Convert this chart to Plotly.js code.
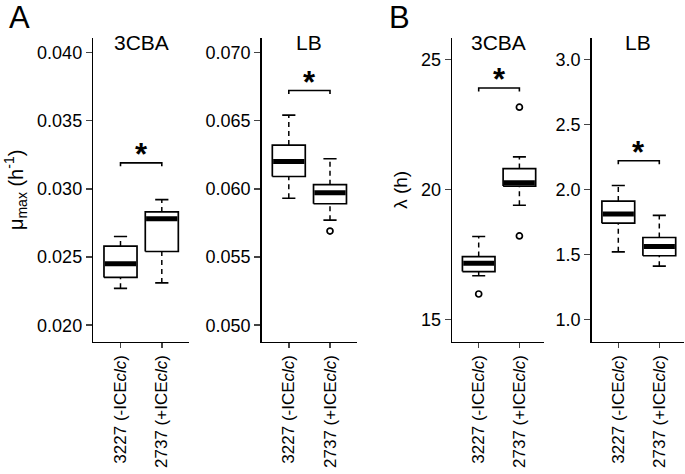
<!DOCTYPE html>
<html><head><meta charset="utf-8">
<script src="https://cdn.plot.ly/plotly-3.0.1.min.js"></script>
<style>html,body{margin:0;padding:0;background:#fff}#chart{width:685px;height:474px}</style>
</head><body><div id="chart"></div>
<script>
// categories
const strains = ["3227 (-ICE<i>clc</i>)", "2737 (+ICE<i>clc</i>)"];
const panelTitles = ["3CBA", "LB", "3CBA", "LB"];

// A: mu_max, 3CBA  (per strain: whisker low, Q1, median, Q3, whisker high)
const mu3CBA_lower  = [0.0227, 0.0231];
const mu3CBA_q1     = [0.0235, 0.0254];
const mu3CBA_median = [0.0245, 0.0278];
const mu3CBA_q3     = [0.0258, 0.0283];
const mu3CBA_upper  = [0.0265, 0.0292];
const mu3CBA_out    = [[], []];

// A: mu_max, LB
const muLB_lower  = [0.0593, 0.0577];
const muLB_q1     = [0.0609, 0.0589];
const muLB_median = [0.0620, 0.0597];
const muLB_q3     = [0.0632, 0.0603];
const muLB_upper  = [0.0654, 0.0622];
const muLB_out    = [[], [0.0569]];

// B: lag, 3CBA
const lag3CBA_lower  = [16.68, 19.39];
const lag3CBA_q1     = [16.84, 20.13];
const lag3CBA_median = [17.16, 20.26];
const lag3CBA_q3     = [17.42, 20.80];
const lag3CBA_upper  = [18.19, 21.25];
const lag3CBA_out    = [[15.98], [23.16, 18.21]];

// B: lag, LB
const lagLB_lower  = [1.52, 1.41];
const lagLB_q1     = [1.74, 1.49];
const lagLB_median = [1.81, 1.56];
const lagLB_q3     = [1.91, 1.63];
const lagLB_upper  = [2.03, 1.80];
const lagLB_out    = [[], []];

// significance bracket heights
const bracketY = [0.0319, 0.0672, 23.9, 2.22];

// y tick values
const ticksMu3CBA = [0.020, 0.025, 0.030, 0.035, 0.040];
const ticksMuLB   = [0.050, 0.055, 0.060, 0.065, 0.070];
const ticksLag3CBA = [15, 20, 25];
const ticksLagLB   = [1.0, 1.5, 2.0, 2.5, 3.0];

const panels = [
  {lo: mu3CBA_lower, q1: mu3CBA_q1, md: mu3CBA_median, q3: mu3CBA_q3, hi: mu3CBA_upper, out: mu3CBA_out, ticks: ticksMu3CBA, fmt: ".3f"},
  {lo: muLB_lower, q1: muLB_q1, md: muLB_median, q3: muLB_q3, hi: muLB_upper, out: muLB_out, ticks: ticksMuLB, fmt: ".3f"},
  {lo: lag3CBA_lower, q1: lag3CBA_q1, md: lag3CBA_median, q3: lag3CBA_q3, hi: lag3CBA_upper, out: lag3CBA_out, ticks: ticksLag3CBA, fmt: "d"},
  {lo: lagLB_lower, q1: lagLB_q1, md: lagLB_median, q3: lagLB_q3, hi: lagLB_upper, out: lagLB_out, ticks: ticksLagLB, fmt: ".1f"}
];

// layout geometry (pixels)
const W = 685, H = 474;
const geo = [
  {tick1: 120.5, ppu: 41.3, xr: [0.34, 2.66], yr: [0.01879, 0.04105]},
  {tick1: 288.8, ppu: 41.2, xr: [0.34, 2.66], yr: [0.04879, 0.07105]},
  {tick1: 478.7, ppu: 40.7, xr: [0.35, 2.60], yr: [14.146, 25.82]},
  {tick1: 618.3, ppu: 41.0, xr: [0.35, 2.60], yr: [0.829, 3.164]}
];
const plotTop = 38, plotBottom = 341.7;
const yDom = [(H - plotBottom) / H, (H - plotTop) / H];

const BOXHALF = 0.4, CAPHALF = 0.16;
const FONT = "Liberation Sans, Arial, sans-serif";
const traces = [];
const layout = {
  width: W, height: H, margin: {l: 0, r: 0, t: 0, b: 0},
  paper_bgcolor: "#fff", plot_bgcolor: "rgba(0,0,0,0)",
  showlegend: false, font: {family: FONT, color: "#000"},
  annotations: []
};

panels.forEach((p, i) => {
  const n = i + 1, xa = "x" + n, ya = "y" + n;
  const g = geo[i];
  const x0 = g.tick1 - (1 - g.xr[0]) * g.ppu, x1 = g.tick1 + (g.xr[1] - 1) * g.ppu;
  const whX = [], whY = [], capX = [], capY = [], medX = [], medY = [], oX = [], oY = [];
  p.q1.forEach((_, k) => {
    const c = k + 1;
    whX.push(c, c, null, c, c, null); whY.push(p.lo[k], p.q1[k], null, p.q3[k], p.hi[k], null);
    capX.push(c - CAPHALF, c + CAPHALF, null, c - CAPHALF, c + CAPHALF, null);
    capY.push(p.lo[k], p.lo[k], null, p.hi[k], p.hi[k], null);
    medX.push(c - BOXHALF + 0.02, c + BOXHALF - 0.02, null); medY.push(p.md[k], p.md[k], null);
    p.out[k].forEach(v => { oX.push(c); oY.push(v); });
    traces.push({type: "scatter", mode: "lines", xaxis: xa, yaxis: ya, hoverinfo: "skip",
      x: [c - BOXHALF, c + BOXHALF, c + BOXHALF, c - BOXHALF, c - BOXHALF],
      y: [p.q1[k], p.q1[k], p.q3[k], p.q3[k], p.q1[k]],
      line: {color: "#000", width: 1.7}, fill: "toself", fillcolor: "#fff"});
  });
  traces.unshift({type: "scatter", mode: "lines", xaxis: xa, yaxis: ya, x: whX, y: whY,
    line: {color: "#000", width: 1.5, dash: "5px,4px"}, hoverinfo: "skip"});
  traces.push({type: "scatter", mode: "lines", xaxis: xa, yaxis: ya, x: capX, y: capY,
    line: {color: "#000", width: 1.6}, hoverinfo: "skip"});
  traces.push({type: "scatter", mode: "lines", xaxis: xa, yaxis: ya, x: medX, y: medY,
    line: {color: "#000", width: 5}, hoverinfo: "skip"});
  if (oX.length) traces.push({type: "scatter", mode: "markers", xaxis: xa, yaxis: ya, x: oX, y: oY,
    marker: {symbol: "circle-open", size: 6, color: "#000", line: {width: 1.7}}, hoverinfo: "skip"});
  // significance bracket
  const b = bracketY[i], dy = (g.yr[1] - g.yr[0]) / (plotBottom - plotTop) * 3.5;
  traces.push({type: "scatter", mode: "lines", xaxis: xa, yaxis: ya,
    x: [1, 1, 2, 2], y: [b - dy, b, b, b - dy], line: {color: "#000", width: 1.6}, hoverinfo: "skip"});
  layout.annotations.push({xref: xa, yref: ya, x: 1.5, y: b, text: "<b>*</b>", showarrow: false,
    yanchor: "bottom", yshift: -11, font: {size: 31, family: FONT, color: "#000"}});
  layout.annotations.push({xref: "paper", yref: "paper", x: (x0 + x1) / 2 / W, y: (H - 42) / H,
    text: panelTitles[i], showarrow: false, xanchor: "center", yanchor: "middle",
    font: {size: 21, family: FONT, color: "#000"}});

  layout["xaxis" + n] = {domain: [x0 / W, x1 / W], range: g.xr, anchor: ya,
    tickvals: [1, 2], ticktext: strains, tickangle: -90, ticks: "outside", ticklen: 5, tickwidth: 1.5,
    showline: true, linewidth: 1.5, linecolor: "#000", showgrid: false, zeroline: false,
    tickfont: {size: 17, family: FONT, color: "#000"}, fixedrange: true};
  layout["yaxis" + n] = {domain: yDom, range: g.yr, anchor: xa,
    tickvals: p.ticks, tickformat: p.fmt, ticks: "outside", ticklen: 6, tickwidth: 1.5,
    showline: true, linewidth: 1.5, linecolor: "#000", showgrid: false, zeroline: false,
    tickfont: {size: 18, family: FONT, color: "#000"}, fixedrange: true};
});

layout.yaxis1.title = {text: "μ<sub>max</sub> (h<sup>-1</sup>)", font: {size: 20, family: FONT, color: "#000"}, standoff: 8};
layout.yaxis3.title = {text: "λ (h)", font: {size: 19, family: FONT, color: "#000"}, standoff: 8};

layout.annotations.push({xref: "paper", yref: "paper", x: 19 / W, y: (H - 18) / H, text: "A",
  showarrow: false, xanchor: "center", yanchor: "middle", font: {size: 31, family: FONT, color: "#000"}});
layout.annotations.push({xref: "paper", yref: "paper", x: 400 / W, y: (H - 18) / H, text: "B",
  showarrow: false, xanchor: "center", yanchor: "middle", font: {size: 31, family: FONT, color: "#000"}});

Plotly.newPlot("chart", traces, layout, {staticPlot: true, displayModeBar: false});
</script>
</body></html>
